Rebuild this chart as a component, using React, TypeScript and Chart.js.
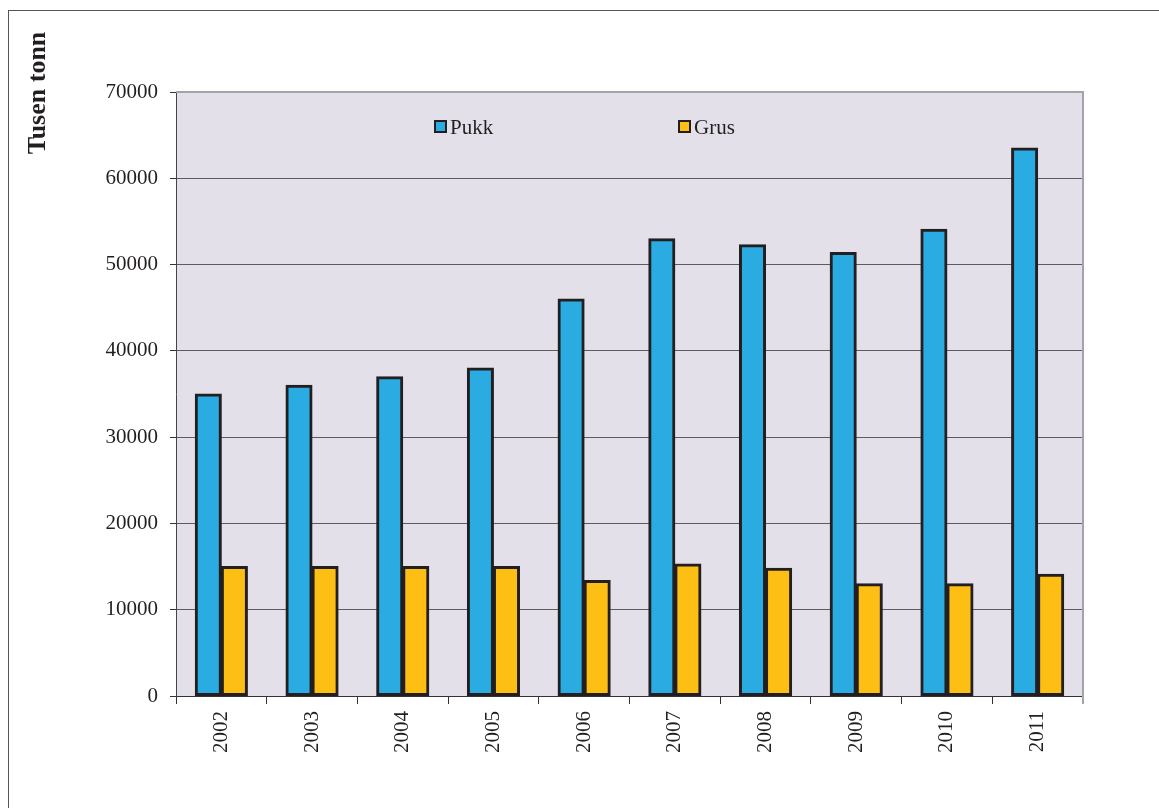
import React, { useEffect, useRef } from "react";
import { Chart, registerables } from "chart.js";

Chart.register(...registerables);

const years = ["2002", "2003", "2004", "2005", "2006", "2007", "2008", "2009", "2010", "2011"];
const pukk = [35000, 36000, 37000, 38000, 46000, 53000, 52300, 51400, 54100, 63500];
const grus = [15000, 15000, 15000, 15000, 13400, 15300, 14800, 13000, 13000, 14100];
const seriesNames = ["Pukk", "Grus"];
const yTitle = "Tusen tonn";

const FONT = "'Liberation Serif', 'Times New Roman', serif";
const BLUE = "#2aabe2";
const YELLOW = "#fdbf14";
const DARK = "#231f20";

const decorPlugin = {
  id: "decor",
  beforeDraw(chart: any) {
    const { ctx, chartArea: a } = chart;
    ctx.save();
    ctx.fillStyle = "#ffffff";
    ctx.fillRect(0, 0, chart.width, chart.height);
    ctx.strokeStyle = "#555555";
    ctx.lineWidth = 1;
    ctx.strokeRect(8.5, 10.5, chart.width + 20, chart.height + 20);
    ctx.fillStyle = "#e4e0ea";
    ctx.fillRect(a.left, a.top, a.right - a.left, a.bottom - a.top);
    ctx.restore();
  },
  afterDraw(chart: any) {
    const { ctx, chartArea: a } = chart;
    ctx.save();
    ctx.strokeStyle = "#a3a3a8";
    ctx.lineWidth = 2;
    ctx.beginPath();
    ctx.moveTo(a.left, a.top);
    ctx.lineTo(a.right, a.top);
    ctx.lineTo(a.right, a.bottom + 8);
    ctx.stroke();
    ctx.fillStyle = DARK;
    ctx.font = `bold 26px ${FONT}`;
    ctx.translate(45, 93);
    ctx.rotate(-Math.PI / 2);
    ctx.textAlign = "center";
    ctx.textBaseline = "alphabetic";
    ctx.fillText(yTitle, 0, 0);
    ctx.restore();

    ctx.save();
    const colors = [BLUE, YELLOW];
    const xs = [a.left + 259, a.left + 503];
    ctx.font = `21px ${FONT}`;
    ctx.textBaseline = "alphabetic";
    ctx.textAlign = "left";
    chart.data.datasets.forEach((ds: any, i: number) => {
      const x = xs[i];
      const y = a.top + 29;
      ctx.fillStyle = colors[i];
      ctx.fillRect(x, y, 11, 11);
      ctx.strokeStyle = DARK;
      ctx.lineWidth = 2;
      ctx.strokeRect(x, y, 11, 11);
      ctx.fillStyle = DARK;
      ctx.fillText(ds.label, x + 15, y + 13);
    });
    ctx.restore();
  },
};

export default function App() {
  const ref = useRef<HTMLCanvasElement | null>(null);
  useEffect(() => {
    if (!ref.current) return;
    const common = {
      borderColor: DARK,
      borderWidth: 3,
      borderSkipped: false,
      inflateAmount: 0.5,
      categoryPercentage: 0.575,
      barPercentage: 1,
    };
    const chart = new Chart(ref.current, {
      type: "bar",
      data: {
        labels: years,
        datasets: [
          { label: seriesNames[0], data: pukk, backgroundColor: BLUE, ...common },
          { label: seriesNames[1], data: grus, backgroundColor: YELLOW, ...common },
        ],
      },
      options: {
        responsive: false,
        animation: false,
        layout: { padding: { left: 0, top: 92, right: 76, bottom: 0 } },
        plugins: {
          legend: { display: false },
          tooltip: { enabled: false },
        },
        scales: {
          x: {
            grid: {
              offset: true,
              drawOnChartArea: false,
              drawTicks: true,
              tickLength: 8,
              tickColor: "#333333",
            },
            border: { display: true, color: "#333333", width: 1 },
            ticks: {
              minRotation: 90,
              maxRotation: 90,
              padding: 7,
              color: DARK,
              font: { family: FONT, size: 21 },
            },
            afterFit(scale: any) {
              scale.height = 112;
            },
          },
          y: {
            min: 0,
            max: 70000,
            ticks: {
              stepSize: 10000,
              padding: 12,
              color: DARK,
              font: { family: FONT, size: 21 },
              callback: (v: any) => String(v),
            },
            grid: {
              color: (c: any) => (c.tick && c.tick.value === 70000 ? "#a3a3a8" : "#5d5a62"),
              lineWidth: 1,
              drawTicks: true,
              tickLength: 6,
              tickColor: "#333333",
            },
            border: { display: true, color: "#444444", width: 1 },
            afterFit(scale: any) {
              scale.width = 176;
            },
          },
        },
      },
      plugins: [decorPlugin],
    });
    return () => chart.destroy();
  }, []);
  return (
    <div style={{ position: "fixed", left: 0, top: 0, width: 1159, height: 808, background: "#fff" }}>
      <canvas ref={ref} width={1159} height={808} style={{ display: "block" }} />
    </div>
  );
}
